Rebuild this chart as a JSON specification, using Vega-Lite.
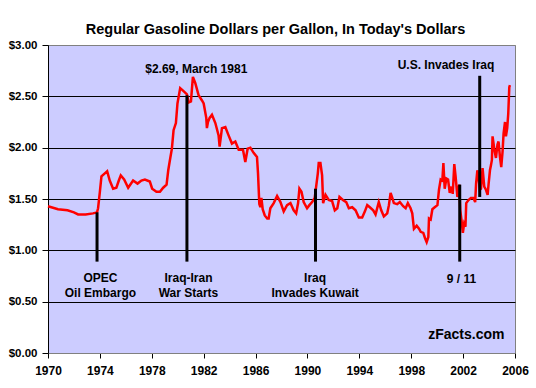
{
  "$schema": "https://vega.github.io/schema/vega-lite/v6.json",
  "width": 467,
  "height": 308,
  "autosize": {"type": "none"},
  "padding": {"left": 48, "top": 45, "right": 21, "bottom": 35},
  "background": "white",
  "config": {
    "view": {"fill": "#ccccff", "stroke": "#808080", "strokeWidth": 1},
    "font": "Liberation Sans"
  },
  "title": {
    "text": "Regular Gasoline Dollars per Gallon, In Today's Dollars",
    "fontSize": 14.5,
    "fontWeight": "bold",
    "font": "Liberation Sans",
    "color": "black",
    "anchor": "middle",
    "frame": "group",
    "dx": -6,
    "offset": 2
  },
  "datasets": {
    "price": [
      {"year": 1970.0, "price": 1.43},
      {"year": 1970.77, "price": 1.40},
      {"year": 1971.5, "price": 1.39},
      {"year": 1972.0, "price": 1.37},
      {"year": 1972.32, "price": 1.35},
      {"year": 1972.9, "price": 1.35},
      {"year": 1973.47, "price": 1.36},
      {"year": 1973.78, "price": 1.37},
      {"year": 1973.86, "price": 1.41},
      {"year": 1973.99, "price": 1.56},
      {"year": 1974.12, "price": 1.72},
      {"year": 1974.38, "price": 1.75},
      {"year": 1974.56, "price": 1.77},
      {"year": 1974.76, "price": 1.68},
      {"year": 1975.02, "price": 1.60},
      {"year": 1975.27, "price": 1.61},
      {"year": 1975.46, "price": 1.68},
      {"year": 1975.61, "price": 1.73},
      {"year": 1975.87, "price": 1.69},
      {"year": 1976.18, "price": 1.61},
      {"year": 1976.56, "price": 1.68},
      {"year": 1976.9, "price": 1.65},
      {"year": 1977.2, "price": 1.68},
      {"year": 1977.47, "price": 1.69},
      {"year": 1977.85, "price": 1.67},
      {"year": 1978.03, "price": 1.60},
      {"year": 1978.36, "price": 1.57},
      {"year": 1978.63, "price": 1.57},
      {"year": 1978.88, "price": 1.61},
      {"year": 1979.14, "price": 1.64},
      {"year": 1979.27, "price": 1.78},
      {"year": 1979.4, "price": 1.88},
      {"year": 1979.55, "price": 1.99},
      {"year": 1979.68, "price": 2.17},
      {"year": 1979.86, "price": 2.24},
      {"year": 1979.98, "price": 2.43},
      {"year": 1980.19, "price": 2.58},
      {"year": 1980.45, "price": 2.55},
      {"year": 1980.71, "price": 2.52},
      {"year": 1980.84, "price": 2.44},
      {"year": 1981.02, "price": 2.45},
      {"year": 1981.17, "price": 2.69},
      {"year": 1981.35, "price": 2.63},
      {"year": 1981.61, "price": 2.51},
      {"year": 1981.87, "price": 2.46},
      {"year": 1982.0, "price": 2.43},
      {"year": 1982.2, "price": 2.29},
      {"year": 1982.25, "price": 2.19},
      {"year": 1982.33, "price": 2.25},
      {"year": 1982.46, "price": 2.29},
      {"year": 1982.64, "price": 2.32},
      {"year": 1982.9, "price": 2.24},
      {"year": 1983.15, "price": 2.12},
      {"year": 1983.23, "price": 2.01},
      {"year": 1983.41, "price": 2.19},
      {"year": 1983.67, "price": 2.20},
      {"year": 1983.92, "price": 2.12},
      {"year": 1984.18, "price": 2.04},
      {"year": 1984.44, "price": 2.06},
      {"year": 1984.7, "price": 1.98},
      {"year": 1985.03, "price": 1.98},
      {"year": 1985.21, "price": 1.86},
      {"year": 1985.39, "price": 1.99},
      {"year": 1985.6, "price": 2.00},
      {"year": 1985.85, "price": 1.95},
      {"year": 1986.11, "price": 1.91},
      {"year": 1986.19, "price": 1.75},
      {"year": 1986.29, "price": 1.45},
      {"year": 1986.37, "price": 1.42},
      {"year": 1986.45, "price": 1.51},
      {"year": 1986.55, "price": 1.40},
      {"year": 1986.71, "price": 1.34},
      {"year": 1986.9, "price": 1.31},
      {"year": 1987.01, "price": 1.31},
      {"year": 1987.14, "price": 1.41},
      {"year": 1987.4, "price": 1.46},
      {"year": 1987.66, "price": 1.53},
      {"year": 1987.92, "price": 1.47},
      {"year": 1988.17, "price": 1.38},
      {"year": 1988.43, "price": 1.44},
      {"year": 1988.69, "price": 1.46},
      {"year": 1988.94, "price": 1.39},
      {"year": 1989.13, "price": 1.36},
      {"year": 1989.28, "price": 1.46},
      {"year": 1989.38, "price": 1.60},
      {"year": 1989.54, "price": 1.57},
      {"year": 1989.71, "price": 1.47},
      {"year": 1989.97, "price": 1.41},
      {"year": 1990.15, "price": 1.44},
      {"year": 1990.36, "price": 1.47},
      {"year": 1990.56, "price": 1.51},
      {"year": 1990.67, "price": 1.62},
      {"year": 1990.8, "price": 1.75},
      {"year": 1990.87, "price": 1.85},
      {"year": 1991.0, "price": 1.85},
      {"year": 1991.13, "price": 1.73},
      {"year": 1991.21, "price": 1.46},
      {"year": 1991.39, "price": 1.54},
      {"year": 1991.64, "price": 1.49},
      {"year": 1991.9, "price": 1.48},
      {"year": 1992.11, "price": 1.39},
      {"year": 1992.3, "price": 1.41},
      {"year": 1992.47, "price": 1.52},
      {"year": 1992.73, "price": 1.49},
      {"year": 1992.99, "price": 1.47},
      {"year": 1993.19, "price": 1.41},
      {"year": 1993.45, "price": 1.42},
      {"year": 1993.71, "price": 1.39},
      {"year": 1993.96, "price": 1.32},
      {"year": 1994.22, "price": 1.32},
      {"year": 1994.43, "price": 1.38},
      {"year": 1994.61, "price": 1.44},
      {"year": 1994.81, "price": 1.42},
      {"year": 1995.07, "price": 1.39},
      {"year": 1995.25, "price": 1.35},
      {"year": 1995.5, "price": 1.47},
      {"year": 1995.69, "price": 1.39},
      {"year": 1995.89, "price": 1.33},
      {"year": 1996.15, "price": 1.36},
      {"year": 1996.28, "price": 1.44},
      {"year": 1996.41, "price": 1.56},
      {"year": 1996.54, "price": 1.51},
      {"year": 1996.66, "price": 1.46},
      {"year": 1996.92, "price": 1.45},
      {"year": 1997.12, "price": 1.47},
      {"year": 1997.38, "price": 1.43},
      {"year": 1997.57, "price": 1.41},
      {"year": 1997.74, "price": 1.46},
      {"year": 1997.95, "price": 1.41},
      {"year": 1998.08, "price": 1.36},
      {"year": 1998.21, "price": 1.21},
      {"year": 1998.42, "price": 1.24},
      {"year": 1998.6, "price": 1.21},
      {"year": 1998.73, "price": 1.18},
      {"year": 1998.93, "price": 1.17},
      {"year": 1999.06, "price": 1.12},
      {"year": 1999.19, "price": 1.08},
      {"year": 1999.32, "price": 1.13},
      {"year": 1999.37, "price": 1.31},
      {"year": 1999.5, "price": 1.30},
      {"year": 1999.63, "price": 1.40},
      {"year": 1999.81, "price": 1.42},
      {"year": 2000.02, "price": 1.44},
      {"year": 2000.14, "price": 1.59},
      {"year": 2000.27, "price": 1.69},
      {"year": 2000.4, "price": 1.68},
      {"year": 2000.48, "price": 1.85},
      {"year": 2000.58, "price": 1.60},
      {"year": 2000.71, "price": 1.70},
      {"year": 2000.84, "price": 1.69},
      {"year": 2000.97, "price": 1.56},
      {"year": 2001.1, "price": 1.62},
      {"year": 2001.2, "price": 1.55},
      {"year": 2001.32, "price": 1.84},
      {"year": 2001.42, "price": 1.72},
      {"year": 2001.56, "price": 1.52},
      {"year": 2001.7, "price": 1.64},
      {"year": 2001.78, "price": 1.39},
      {"year": 2001.91, "price": 1.26},
      {"year": 2001.98, "price": 1.17},
      {"year": 2002.08, "price": 1.26},
      {"year": 2002.18, "price": 1.23},
      {"year": 2002.24, "price": 1.46},
      {"year": 2002.42, "price": 1.49},
      {"year": 2002.6, "price": 1.51},
      {"year": 2002.8, "price": 1.51},
      {"year": 2002.93, "price": 1.47},
      {"year": 2003.0, "price": 1.65},
      {"year": 2003.1, "price": 1.78},
      {"year": 2003.18, "price": 1.72},
      {"year": 2003.29, "price": 1.59},
      {"year": 2003.38, "price": 1.60},
      {"year": 2003.5, "price": 1.80},
      {"year": 2003.63, "price": 1.62},
      {"year": 2003.76, "price": 1.59},
      {"year": 2003.89, "price": 1.54},
      {"year": 2003.96, "price": 1.64},
      {"year": 2004.07, "price": 1.78},
      {"year": 2004.15, "price": 1.83},
      {"year": 2004.22, "price": 1.88},
      {"year": 2004.27, "price": 2.11},
      {"year": 2004.4, "price": 1.99},
      {"year": 2004.53, "price": 1.90},
      {"year": 2004.65, "price": 2.03},
      {"year": 2004.73, "price": 2.06},
      {"year": 2004.84, "price": 1.91},
      {"year": 2004.94, "price": 1.81},
      {"year": 2005.04, "price": 1.96},
      {"year": 2005.12, "price": 2.14},
      {"year": 2005.23, "price": 2.25},
      {"year": 2005.3, "price": 2.11},
      {"year": 2005.4, "price": 2.19},
      {"year": 2005.48, "price": 2.33},
      {"year": 2005.56, "price": 2.59},
      {"year": 2005.61, "price": 2.61}
    ],
    "events": [
      {"year": 1973.78, "low": 0.89, "high": 1.37},
      {"year": 1980.71, "low": 0.89, "high": 2.51},
      {"year": 1990.62, "low": 0.89, "high": 1.60},
      {"year": 2001.74, "low": 0.89, "high": 1.64},
      {"year": 2003.28, "low": 1.52, "high": 2.70}
    ],
    "labels": [
      {"year": 1974.04, "value": 0.695, "label": "OPEC\nOil Embargo"},
      {"year": 1980.83, "value": 0.695, "label": "Iraq-Iran\nWar Starts"},
      {"year": 1990.59, "value": 0.695, "label": "Iraq\nInvades Kuwait"},
      {"year": 2001.88, "value": 0.68, "label": "9 / 11"},
      {"year": 1981.43, "value": 2.727, "label": "$2.69, March 1981"},
      {"year": 2000.68, "value": 2.766, "label": "U.S. Invades Iraq"}
    ],
    "brand": [
      {"year": 2002.25, "value": 0.136, "label": "zFacts.com"}
    ]
  },
  "layer": [
    {
      "data": {"name": "price"},
      "mark": {"type": "line", "color": "#ff0000", "strokeWidth": 2.5, "interpolate": "linear"},
      "encoding": {
        "x": {
          "field": "year", "type": "quantitative",
          "scale": {"domain": [1970, 2006], "nice": false, "zero": false},
          "axis": {
            "values": [1970, 1974, 1978, 1982, 1986, 1990, 1994, 1998, 2002, 2006],
            "format": "d", "title": null, "grid": false,
            "labelFont": "Liberation Sans", "labelFontSize": 12, "labelFontWeight": "bold",
            "labelColor": "black", "tickColor": "black", "tickSize": 5,
            "domainColor": "#808080", "labelPadding": 7, "labelFlush": false
          }
        },
        "y": {
          "field": "price", "type": "quantitative",
          "scale": {"domain": [0, 3], "nice": false},
          "axis": {
            "values": [0, 0.5, 1, 1.5, 2, 2.5, 3],
            "format": "$.2f", "title": null,
            "grid": true,
            "gridColor": {"condition": {"test": "datum.value == 0 || datum.value == 3", "value": "#808080"}, "value": "black"},
            "gridOpacity": 1,
            "labelFont": "Liberation Sans", "labelFontSize": 11.5, "labelFontWeight": "bold",
            "labelColor": "black", "tickColor": "black", "tickSize": 6,
            "domainColor": "black", "labelPadding": 5, "labelFlush": false
          }
        }
      }
    },
    {
      "data": {"name": "events"},
      "mark": {"type": "rule", "color": "black", "strokeWidth": 3},
      "encoding": {
        "x": {"field": "year", "type": "quantitative"},
        "y": {"field": "low", "type": "quantitative"},
        "y2": {"field": "high"}
      }
    },
    {
      "data": {"name": "labels"},
      "mark": {"type": "text", "font": "Liberation Sans", "fontSize": 12, "fontWeight": "bold", "color": "black", "align": "center", "baseline": "alphabetic", "lineBreak": "\n", "lineHeight": 15.6},
      "encoding": {
        "x": {"field": "year", "type": "quantitative"},
        "y": {"field": "value", "type": "quantitative"},
        "text": {"field": "label"}
      }
    },
    {
      "data": {"name": "brand"},
      "mark": {"type": "text", "font": "Liberation Sans", "fontSize": 14, "fontWeight": "bold", "color": "black", "align": "center", "baseline": "alphabetic"},
      "encoding": {
        "x": {"field": "year", "type": "quantitative"},
        "y": {"field": "value", "type": "quantitative"},
        "text": {"field": "label"}
      }
    }
  ]
}
